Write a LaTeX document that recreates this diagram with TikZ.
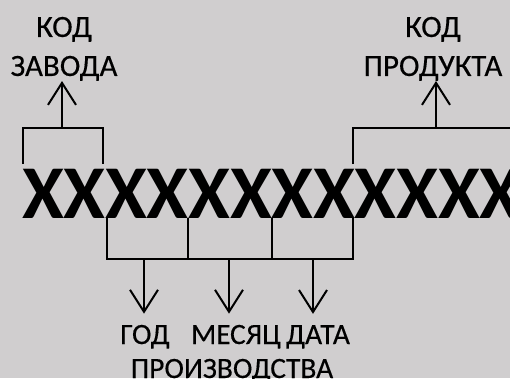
\documentclass[tikz,border=0pt]{standalone}
\usepackage{fontspec}
\setmainfont{Carlito}
\newfontfamily\lblfont{Carlito}[FakeBold=0.3]
\usetikzlibrary{arrows.meta,positioning}
\definecolor{paper}{RGB}{208,206,207}
\definecolor{ink}{RGB}{0,0,0}
\tikzset{
  lbl/.style={font=\lblfont\fontsize{31}{39}\selectfont,align=center,inner sep=0pt,text=ink},
  lbs/.style={font=\lblfont\fontsize{29.5}{34}\selectfont,inner xsep=0pt,inner ysep=11pt,text=ink},
  xch/.style={font=\fontsize{76}{76}\selectfont\bfseries,inner sep=0pt,anchor=base,text=ink},
  brk/.style={draw=ink,line width=2pt},
  arr/.style={draw=ink,line width=2pt,-{Straight Barb[length=22pt,width=28pt]}},
}
\begin{document}
\begin{tikzpicture}[x=1pt,y=-1pt]
\fill[paper] (0,0) rectangle (510,378);
\useasboundingbox (0,0) rectangle (510,378);
\clip (0,0) rectangle (510,378);
% the serial number
\foreach \i in {1,...,12}
  \node[xch] (x\i) at ({43+41.6*(\i-1)},218) {X};
% labels
\node[lbl,anchor=south] (kz) at (64,81) {КОД\\ЗАВОДА};
\node[lbl,anchor=south] (kp) at (433,81) {КОД\\ПРОДУКТА};
\node[lbs,anchor=base] (god) at (145,344) {ГОД};
\node[lbs,anchor=base] (mes) at (236,344) {МЕСЯЦ};
\node[lbs,anchor=base] (dat) at (318,344) {ДАТА};
\node[lbs,anchor=base] (prz) at (232,378) {ПРОИЗВОДСТВА};
% brackets above
\coordinate (bz) at (62,128);
\coordinate (bp) at (436,128);
\draw[brk] (23,164) |- (103,128) -- (103,164);
\draw[brk] (353,164) |- (515,128);
\draw[arr] (bz) -- (bz |- kz.south);
\draw[arr] (bp) -- (bp |- kp.south);
% bracket below
\coordinate (bg) at (144,259);
\coordinate (bm) at (229,259);
\coordinate (bd) at (313,259);
\draw[brk] (107,218) |- (353,259) -- (353,218);
\draw[brk] (188,218) -- (188,259);
\draw[brk] (272,218) -- (272,259);
\draw[arr] (bg) -- (bg |- god.north);
\draw[arr] (bm) -- (bm |- mes.north);
\draw[arr] (bd) -- (bd |- dat.north);
\end{tikzpicture}
\end{document}
